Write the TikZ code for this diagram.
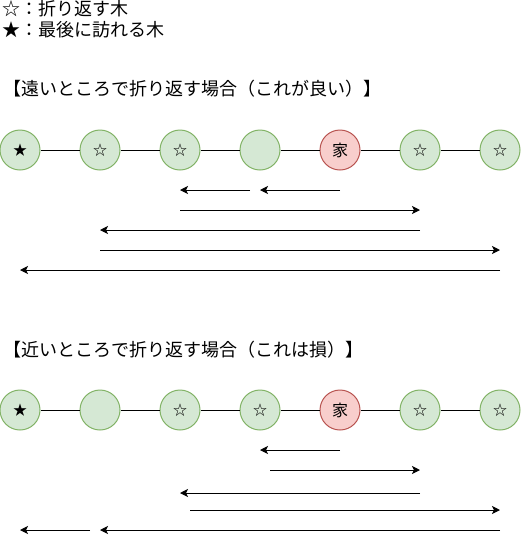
\documentclass[tikz,border=0pt]{standalone}
\usepackage{fontspec}
\setmainfont{Noto Sans CJK JP}
\usetikzlibrary{arrows.meta}

\definecolor{treefill}{HTML}{D5E8D4}
\definecolor{treeline}{HTML}{82B366}
\definecolor{homefill}{HTML}{F8CECC}
\definecolor{homeline}{HTML}{B85450}

\tikzset{
    tree/.style={circle,draw=treeline,fill=treefill,line width=1pt,minimum size=40pt,inner sep=0pt,font=\fontsize{14}{14}\selectfont},
    home/.style={tree,draw=homeline,fill=homefill,font=\fontsize{16}{16}\selectfont},
    walk/.style={line width=1pt,-{Stealth[length=8pt,width=8pt,inset=2pt]}},
    caption/.style={anchor=west,inner sep=0pt,font=\fontsize{18}{18}\selectfont}
}

\begin{document}
\begin{tikzpicture}[x=1pt,y=-1pt]
        \useasboundingbox (0,0) rectangle (521,539);

        % legend
        \node[caption] (leg1) at (2,9) {☆：折り返す木};
        \node[caption] (leg2) at (2,30) {★：最後に訪れる木};

        % far turn
        \node[caption] (far) at (3,89) {【遠いところで折り返す場合（これが良い）】};

        \node[tree] (t1) at (20,150) {★};
        \node[tree] (t2) at (100,150) {☆};
        \node[tree] (t3) at (180,150) {☆};
        \node[tree] (t4) at (260,150) {};
        \node[home] (t5) at (340,150) {家};
        \node[tree] (t6) at (420,150) {☆};
        \node[tree] (t7) at (500,150) {☆};

        \draw[line width=1pt] (t1) -- (t2) (t2) -- (t3) (t3) -- (t4) (t4) -- (t5) (t5) -- (t6) (t6) -- (t7);

        \draw[walk] (250,190) -- (180,190);
        \draw[walk] (340,190) -- (260,190);
        \draw[walk] (180,210) -- (420,210);
        \draw[walk] (420,230) -- (100,230);
        \draw[walk] (100,250) -- (500,250);
        \draw[walk] (500,270) -- (20,270);

        % near turn
        \node[caption] (near) at (3,350) {【近いところで折り返す場合（これは損）】};

        \node[tree] (b1) at (20,410) {★};
        \node[tree] (b2) at (100,410) {};
        \node[tree] (b3) at (180,410) {☆};
        \node[tree] (b4) at (260,410) {☆};
        \node[home] (b5) at (340,410) {家};
        \node[tree] (b6) at (420,410) {☆};
        \node[tree] (b7) at (500,410) {☆};

        \draw[line width=1pt] (b1) -- (b2) (b2) -- (b3) (b3) -- (b4) (b4) -- (b5) (b5) -- (b6) (b6) -- (b7);

        \draw[walk] (340,450) -- (260,450);
        \draw[walk] (270,470) -- (420,470);
        \draw[walk] (420,493) -- (180,493);
        \draw[walk] (190,510) -- (500,510);
        \draw[walk] (90,530) -- (20,530);
        \draw[walk] (500,530) -- (100,530);
\end{tikzpicture}
\end{document}
